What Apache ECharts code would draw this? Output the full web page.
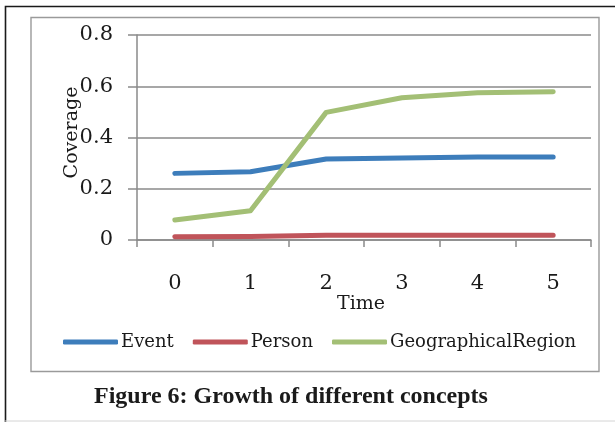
<!DOCTYPE html>
<html>
<head>
<meta charset="utf-8">
<script src="https://cdn.jsdelivr.net/npm/echarts@6/dist/echarts.min.js"></script>
<style>
  html, body { margin: 0; padding: 0; background: #ffffff; }
  #chart { width: 615px; height: 422px; }
</style>
</head>
<body>
<div id="chart"></div>
<script>
// Coverage of each concept over time steps
const timeSteps = ['0', '1', '2', '3', '4', '5'];
const eventCoverage = [0.260, 0.266, 0.316, 0.320, 0.324, 0.324];
const personCoverage = [0.013, 0.014, 0.019, 0.019, 0.019, 0.019];
const geoRegionCoverage = [0.078, 0.114, 0.498, 0.555, 0.575, 0.579];
const seriesNames = ['Event', 'Person', 'GeographicalRegion'];
const seriesColors = ['#3d7dbb', '#c0545a', '#a3bf75'];
const figureCaption = 'Figure 6: Growth of different concepts';

const chartFont = '"DejaVu Serif", "Liberation Serif", serif';
const captionFont = '"Liberation Serif", "Times New Roman", serif';
const axisGray = '#8a8a8a';

const chart = echarts.init(document.getElementById('chart'), null, { renderer: 'canvas' });

const makeSeries = (name, data, color) => ({
  name: name,
  type: 'line',
  data: data,
  symbol: 'none',
  smooth: false,
  lineStyle: { width: 5, color: color, cap: 'round', join: 'round' },
  itemStyle: { color: color },
  z: 3
});

chart.setOption({
  animation: false,
  backgroundColor: '#ffffff',
  textStyle: { fontFamily: chartFont },
  grid: { left: 137, right: 24, top: 35, bottom: 182, containLabel: false },
  graphic: [
    // page frame: left and top edges dark, bottom edge faint
    {
      type: 'polyline',
      shape: { points: [[5.5, 422], [5.5, 6.5], [615, 6.5]] },
      style: { fill: null, stroke: '#1a1a1a', lineWidth: 1.6 },
      silent: true, z: 0
    },
    {
      type: 'line',
      shape: { x1: 5, y1: 421, x2: 615, y2: 421 },
      style: { stroke: '#d4d4d4', lineWidth: 1 },
      silent: true, z: 0
    },
    // chart area border
    {
      type: 'rect',
      shape: { x: 31, y: 17.5, width: 568, height: 354 },
      style: { fill: null, stroke: '#9a9a9a', lineWidth: 1.4 },
      silent: true, z: 0
    },
    {
      type: 'text',
      left: 94, top: 385,
      style: {
        text: figureCaption,
        font: 'bold 24px ' + captionFont,
        fill: '#1a1a1a'
      },
      z: 5
    }
  ],
  legend: {
    data: seriesNames,
    left: 58, top: 328,
    itemWidth: 55, itemHeight: 5,
    itemGap: 19,
    icon: 'roundRect',
    textStyle: { fontFamily: chartFont, fontSize: 18, color: '#1a1a1a', padding: [0, 0, 0, -2] }
  },
  xAxis: {
    type: 'category',
    data: timeSteps,
    boundaryGap: true,
    name: 'Time',
    nameLocation: 'middle',
    nameGap: 50,
    nameTextStyle: { fontFamily: chartFont, fontSize: 19, color: '#1a1a1a', padding: [0, 6, 0, 0] },
    axisLine: { lineStyle: { color: axisGray, width: 1.5 } },
    axisTick: { show: true, length: 7, alignWithLabel: false, lineStyle: { color: axisGray, width: 1.5 } },
    axisLabel: { fontFamily: chartFont, fontSize: 21, color: '#1a1a1a', margin: 33 },
    splitLine: { show: false }
  },
  yAxis: {
    type: 'value',
    min: 0, max: 0.8, interval: 0.2,
    name: 'Coverage',
    nameLocation: 'middle',
    nameRotate: 90,
    nameGap: 55,
    nameMoveOverlap: false,
    nameTextStyle: { fontFamily: chartFont, fontSize: 19, color: '#1a1a1a', padding: [0, 0, 0, 10] },
    axisLine: { show: true, lineStyle: { color: axisGray, width: 1.5 } },
    axisTick: { show: true, length: 9, lineStyle: { color: axisGray, width: 1.5 } },
    axisLabel: { fontFamily: chartFont, fontSize: 21, color: '#1a1a1a', margin: 24 },
    splitLine: { show: true, lineStyle: { color: axisGray, width: 1.5 } }
  },
  series: [
    makeSeries(seriesNames[0], eventCoverage, seriesColors[0]),
    makeSeries(seriesNames[1], personCoverage, seriesColors[1]),
    makeSeries(seriesNames[2], geoRegionCoverage, seriesColors[2])
  ]
});
</script>
</body>
</html>
